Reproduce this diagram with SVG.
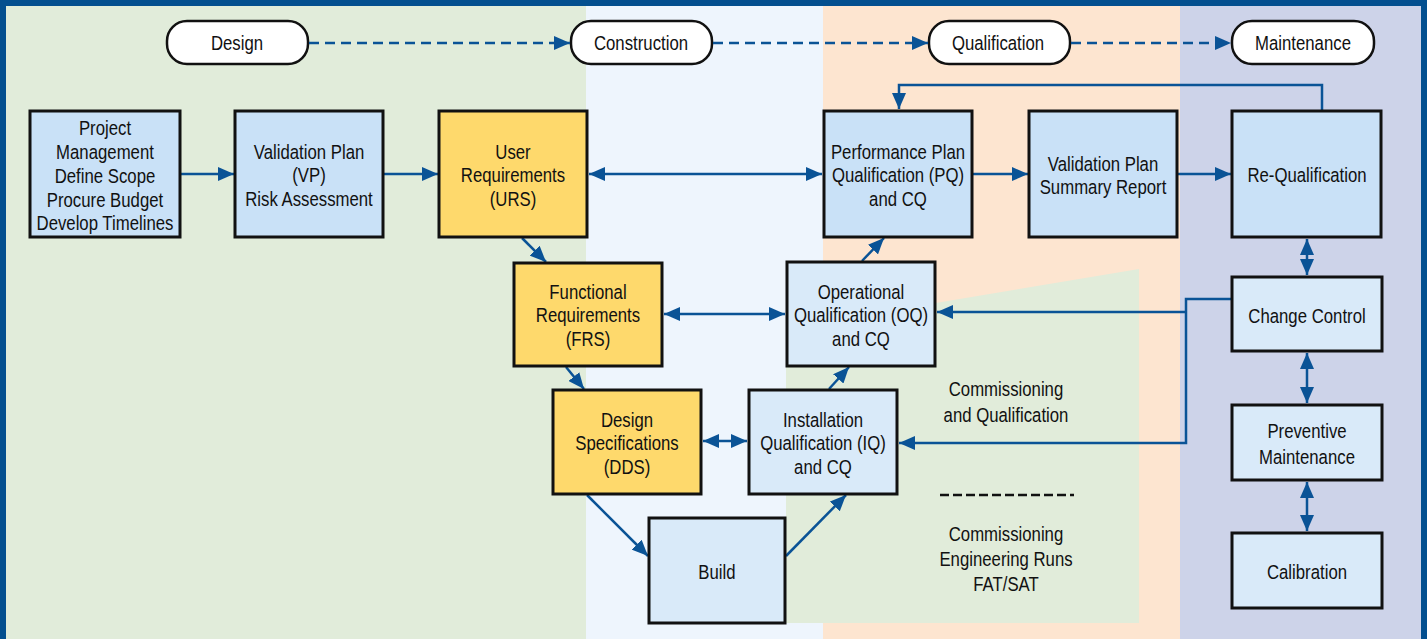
<svg xmlns="http://www.w3.org/2000/svg" width="1427" height="639" viewBox="0 0 1427 639">
<defs>
<style>
.t{font-family:"Liberation Sans",Arial,sans-serif;font-size:19.5px;fill:#111;text-anchor:middle;transform-box:fill-box;transform-origin:center;transform:scaleX(0.86);}
.box{stroke:#111;stroke-width:3;}
.b1{fill:#c9e1f7;}
.b2{fill:#d9eaf9;}
.y{fill:#fed96c;}
.pill{fill:#fff;stroke:#111;stroke-width:2.5;}
.c{fill:none;stroke:#0a5396;stroke-width:2.5;}
.d{stroke-dasharray:10 6;}
</style>
<marker id="ah" markerUnits="userSpaceOnUse" markerWidth="16" markerHeight="14" viewBox="0 0 16 14" refX="16" refY="7" orient="auto-start-reverse">
<path d="M0,0 L16,7 L0,14 Z" fill="#0a5396"/>
</marker>
</defs>
<!-- backgrounds -->
<rect x="0" y="0" width="1427" height="639" fill="#034f8f"/>
<rect x="6" y="6" width="580" height="633" fill="#e1ecda"/>
<rect x="586" y="6" width="237" height="633" fill="#eef5fd"/>
<rect x="823" y="6" width="357" height="633" fill="#fde5d0"/>
<rect x="1180" y="6" width="241" height="633" fill="#cdd3e9"/>
<polygon points="786,328 1139,269 1139,623 786,623" fill="#e1ecda"/>

<g id="phases">
<g id="p-design"><rect class="pill" x="167" y="21" width="141" height="43" rx="20"/><text class="t" x="237" y="50">Design</text></g>
<g id="p-construction"><rect class="pill" x="571" y="21" width="141" height="43" rx="20"/><text class="t" x="641" y="50">Construction</text></g>
<g id="p-qualification"><rect class="pill" x="929" y="21" width="141" height="43" rx="20"/><text class="t" x="998" y="50">Qualification</text></g>
<g id="p-maintenance"><rect class="pill" x="1232" y="21" width="142" height="43" rx="20"/><text class="t" x="1303" y="50">Maintenance</text></g>
</g>

<g id="connectors">
<line class="c d" x1="309" y1="43" x2="570" y2="43" marker-end="url(#ah)"/>
<line class="c d" x1="713" y1="43" x2="928" y2="43" marker-end="url(#ah)"/>
<line class="c d" x1="1071" y1="43" x2="1231" y2="43" marker-end="url(#ah)"/>
<line class="c" x1="181" y1="174" x2="234" y2="174" marker-end="url(#ah)"/>
<line class="c" x1="384" y1="174" x2="438" y2="174" marker-end="url(#ah)"/>
<line class="c" x1="589" y1="174" x2="822" y2="174" marker-start="url(#ah)" marker-end="url(#ah)"/>
<line class="c" x1="973" y1="174" x2="1028" y2="174" marker-end="url(#ah)"/>
<line class="c" x1="1178" y1="174" x2="1231" y2="174" marker-end="url(#ah)"/>
<line class="c" x1="522" y1="238" x2="546" y2="262" marker-end="url(#ah)"/>
<line class="c" x1="664" y1="314" x2="785" y2="314" marker-start="url(#ah)" marker-end="url(#ah)"/>
<line class="c" x1="566" y1="367" x2="584" y2="389" marker-end="url(#ah)"/>
<line class="c" x1="703" y1="441" x2="747" y2="441" marker-start="url(#ah)" marker-end="url(#ah)"/>
<line class="c" x1="587" y1="495" x2="648" y2="556" marker-end="url(#ah)"/>
<line class="c" x1="786" y1="556" x2="846" y2="495" marker-end="url(#ah)"/>
<line class="c" x1="829" y1="389" x2="849" y2="367" marker-end="url(#ah)"/>
<line class="c" x1="862" y1="261" x2="884" y2="238" marker-end="url(#ah)"/>
<line class="c" x1="1307" y1="239" x2="1307" y2="275" marker-start="url(#ah)" marker-end="url(#ah)"/>
<line class="c" x1="1307" y1="353" x2="1307" y2="403" marker-start="url(#ah)" marker-end="url(#ah)"/>
<line class="c" x1="1307" y1="482" x2="1307" y2="531" marker-start="url(#ah)" marker-end="url(#ah)"/>
<polyline class="c" points="1322,110 1322,85 899,85 899,109" marker-end="url(#ah)"/>
<polyline class="c" points="1232,299 1186,299 1186,443 899,443" marker-end="url(#ah)"/>
<line class="c" x1="1186" y1="312" x2="937" y2="312" marker-end="url(#ah)"/>
<line x1="940" y1="495" x2="1074" y2="495" stroke="#111" stroke-width="2.5" stroke-dasharray="9 4"/>
</g>

<g id="n-pm"><rect class="box b1" x="30" y="111" width="150" height="126"/>
<text class="t" x="105" y="135">Project</text><text class="t" x="105" y="159">Management</text><text class="t" x="105" y="183">Define Scope</text><text class="t" x="105" y="207">Procure Budget</text><text class="t" x="105" y="230">Develop Timelines</text></g>
<g id="n-vp"><rect class="box b1" x="235" y="111" width="148" height="126"/>
<text class="t" x="309" y="159">Validation Plan</text><text class="t" x="309" y="182">(VP)</text><text class="t" x="309" y="206">Risk Assessment</text></g>
<g id="n-urs"><rect class="box y" x="439" y="111" width="148" height="126"/>
<text class="t" x="513" y="159">User</text><text class="t" x="513" y="182">Requirements</text><text class="t" x="513" y="206">(URS)</text></g>
<g id="n-pq"><rect class="box b1" x="824" y="111" width="148" height="126"/>
<text class="t" x="898" y="159">Performance Plan</text><text class="t" x="898" y="182">Qualification (PQ)</text><text class="t" x="898" y="206">and CQ</text></g>
<g id="n-vpsr"><rect class="box b1" x="1029" y="111" width="148" height="126"/>
<text class="t" x="1103" y="171">Validation Plan</text><text class="t" x="1103" y="194">Summary Report</text></g>
<g id="n-requal"><rect class="box b1" x="1232" y="111" width="149" height="126"/>
<text class="t" x="1307" y="182">Re-Qualification</text></g>
<g id="n-frs"><rect class="box y" x="514" y="263" width="148" height="103"/>
<text class="t" x="588" y="299">Functional</text><text class="t" x="588" y="322">Requirements</text><text class="t" x="588" y="346">(FRS)</text></g>
<g id="n-oq"><rect class="box b2" x="787" y="262" width="148" height="104"/>
<text class="t" x="861" y="299">Operational</text><text class="t" x="861" y="322">Qualification (OQ)</text><text class="t" x="861" y="346">and CQ</text></g>
<g id="n-cc"><rect class="box b2" x="1232" y="277" width="150" height="74"/>
<text class="t" x="1307" y="323">Change Control</text></g>
<g id="n-dds"><rect class="box y" x="553" y="390" width="148" height="104"/>
<text class="t" x="627" y="427">Design</text><text class="t" x="627" y="450">Specifications</text><text class="t" x="627" y="474">(DDS)</text></g>
<g id="n-iq"><rect class="box b2" x="749" y="390" width="148" height="104"/>
<text class="t" x="823" y="427">Installation</text><text class="t" x="823" y="450">Qualification (IQ)</text><text class="t" x="823" y="474">and CQ</text></g>
<g id="n-pmaint"><rect class="box b2" x="1232" y="405" width="150" height="75"/>
<text class="t" x="1307" y="438">Preventive</text><text class="t" x="1307" y="464">Maintenance</text></g>
<g id="n-build"><rect class="box b2" x="649" y="518" width="136" height="105"/>
<text class="t" x="717" y="579">Build</text></g>
<g id="n-cal"><rect class="box b2" x="1232" y="533" width="150" height="75"/>
<text class="t" x="1307" y="579">Calibration</text></g>
<g id="labels">
<text class="t" x="1006" y="396">Commissioning</text><text class="t" x="1006" y="422">and Qualification</text>
<text class="t" x="1006" y="541">Commissioning</text><text class="t" x="1006" y="566">Engineering Runs</text><text class="t" x="1006" y="591">FAT/SAT</text>
</g>
</svg>
